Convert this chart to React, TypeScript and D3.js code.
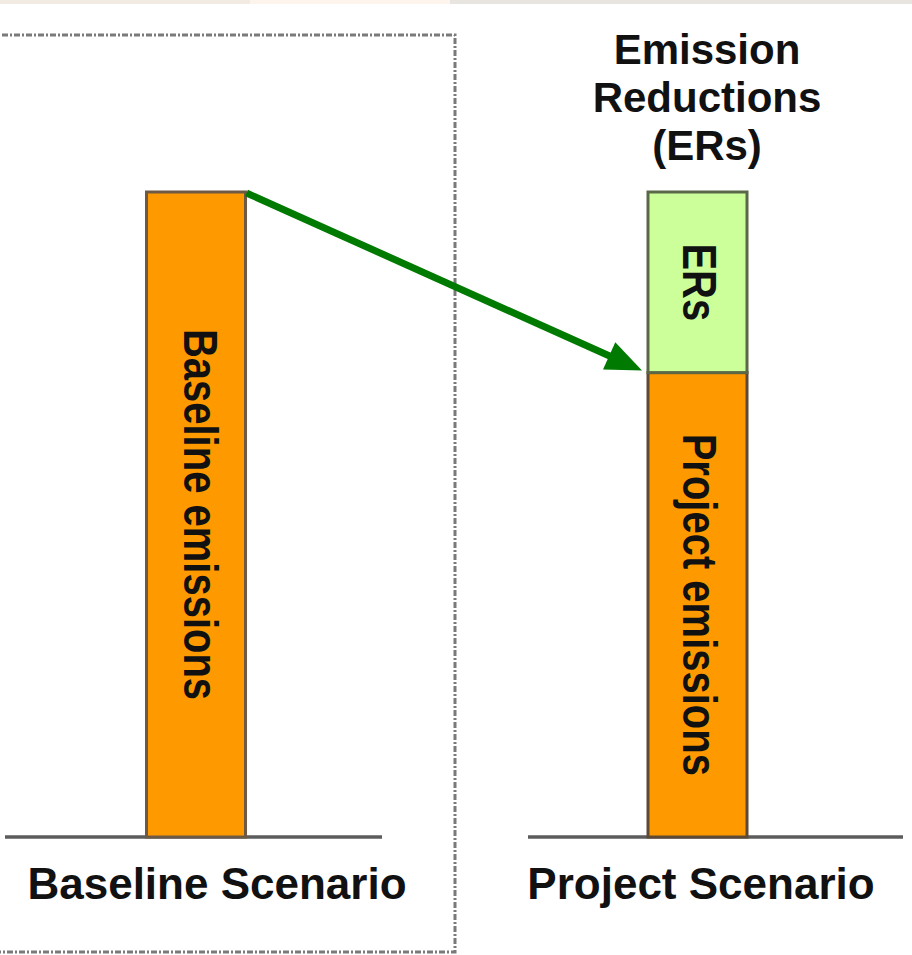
import React from "react";
import * as d3 from "d3";

const scenarios = ["Baseline Scenario", "Project Scenario"];
const baselineEmissions = [100, 0];
const projectEmissions = [0, 72];
const emissionReductions = [0, 28];
const titleLines = ["Emission", "Reductions", "(ERs)"];

const W = 912;
const H = 955;
const FONT = "'Liberation Sans', Arial, Helvetica, sans-serif";

export default function App() {
  const x = d3.scalePoint<string>().domain(scenarios).range([196, 697.5]);
  const y = d3.scaleLinear().domain([0, 100]).range([837, 192]);
  const bw = 99;

  const bx = x(scenarios[0])!;
  const px = x(scenarios[1])!;

  const stack = d3
    .stack<any>()
    .keys(["base", "proj", "ers"])(
      scenarios.map((s, i) => ({
        name: s,
        base: baselineEmissions[i],
        proj: projectEmissions[i],
        ers: emissionReductions[i],
      }))
    );
  const fills: Record<string, string> = { base: "#ff9900", proj: "#ff9900", ers: "#ccff99" };
  const strokes: Record<string, string> = { base: "#6e5a44", proj: "#5e4a34", ers: "#5a6848" };

  // arrow
  const x0 = bx + bw / 2 + 1;
  const y0 = y(baselineEmissions[0]) + 1;
  const x1 = px - bw / 2 - 6;
  const y1 = y(projectEmissions[1]) - 2;
  const ang = Math.atan2(y1 - y0, x1 - x0);
  const hl = 36;
  const hw = 15;
  const bxp = x1 - hl * Math.cos(ang);
  const byp = y1 - hl * Math.sin(ang);
  const head = [
    [x1, y1],
    [bxp + hw * Math.sin(ang), byp - hw * Math.cos(ang)],
    [bxp - hw * Math.sin(ang), byp + hw * Math.cos(ang)],
  ];
  const lx = x1 - hl * 0.8 * Math.cos(ang);
  const ly = y1 - hl * 0.8 * Math.sin(ang);

  const rotLabel = (txt: string, cx: number, v0: number, v1: number, key: string) => {
    const cy = (y(v0) + y(v1)) / 2;
    return (
      <text
        key={key}
        transform={`translate(${cx - 12},${cy}) rotate(90) scale(1,1.22)`}
        textAnchor="middle"
        fontFamily={FONT}
        fontWeight="bold"
        fontSize={40}
        fill="#111"
      >
        {txt}
      </text>
    );
  };

  return (
    <svg
      width={W}
      height={H}
      style={{ position: "absolute", left: 0, top: 0, background: "#fff" }}
    >
      {/* top strip */}
      <rect x={0} y={0} width={250} height={4} fill="#f1ebe3" />
      <rect x={250} y={0} width={200} height={4} fill="#fdf4ee" />
      <rect x={450} y={0} width={462} height={4} fill="#e8e4df" />

      {/* dashed box */}
      <rect
        x={-10}
        y={35}
        width={465}
        height={917}
        fill="none"
        stroke="#7a7a7a"
        strokeWidth={3}
        strokeDasharray="6,2,2,2"
      />

      {/* ground lines */}
      <line x1={5} x2={382} y1={y(0)} y2={y(0)} stroke="#5c5c5c" strokeWidth={3.5} />
      <line x1={528} x2={903} y1={y(0)} y2={y(0)} stroke="#5c5c5c" strokeWidth={3.5} />

      {/* bars */}
      {stack.map((layer) =>
        layer.map((d, i) =>
          d[1] - d[0] > 0 ? (
            <rect
              key={layer.key + i}
              x={x(scenarios[i])! - bw / 2}
              y={y(d[1])}
              width={bw}
              height={y(d[0]) - y(d[1])}
              fill={fills[layer.key]}
              stroke={strokes[layer.key]}
              strokeWidth={3}
            />
          ) : null
        )
      )}

      {/* bar labels */}
      {rotLabel("Baseline emissions", bx, 0, baselineEmissions[0], "bl")}
      {rotLabel("Project emissions", px - 3, 0, projectEmissions[1], "pl")}
      {rotLabel("ERs", px - 3, projectEmissions[1], projectEmissions[1] + emissionReductions[1], "el")}

      {/* arrow */}
      <line x1={x0} y1={y0} x2={lx} y2={ly} stroke="#007a00" strokeWidth={7} />
      <polygon points={head.map((p) => p.join(",")).join(" ")} fill="#007a00" />

      {/* title */}
      {titleLines.map((t, i) => (
        <text
          key={t}
          x={707}
          y={64 + i * 48}
          textAnchor="middle"
          fontFamily={FONT}
          fontWeight="bold"
          fontSize={42}
          fill="#111"
        >
          {t}
        </text>
      ))}

      {/* scenario labels */}
      <text x={217} y={899} textAnchor="middle" fontFamily={FONT} fontWeight="bold" fontSize={44} fill="#111">
        {scenarios[0]}
      </text>
      <text x={701} y={899} textAnchor="middle" fontFamily={FONT} fontWeight="bold" fontSize={44} fill="#111">
        {scenarios[1]}
      </text>
    </svg>
  );
}
